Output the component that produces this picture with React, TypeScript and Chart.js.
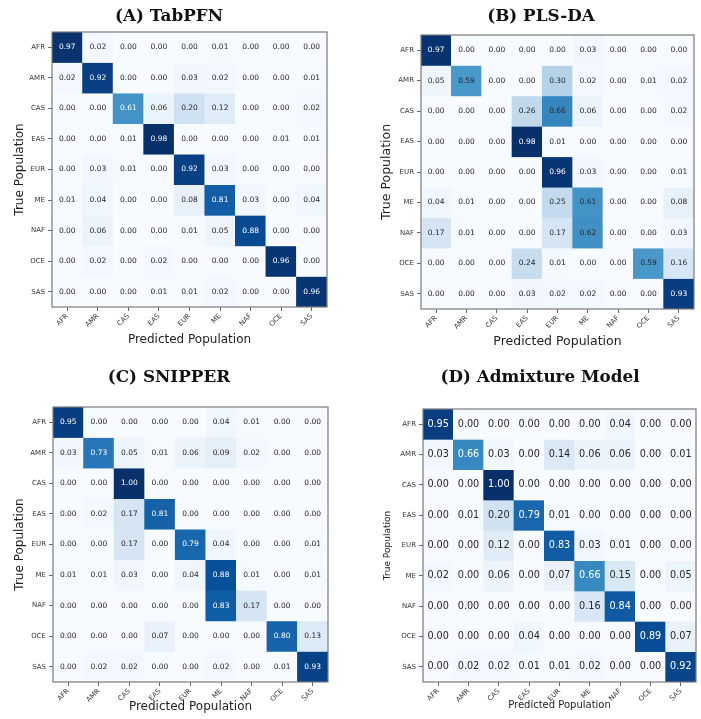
import React, { useEffect, useRef } from "react";
import { Chart, registerables } from "chart.js";

Chart.register(...registerables);

// Population codes shared by both axes
const populations = ["AFR", "AMR", "CAS", "EAS", "EUR", "ME", "NAF", "OCE", "SAS"];

// Row-normalised confusion matrices (rows = true population, columns = predicted)
const tabpfnMatrix = [
  [0.97, 0.02, 0.0, 0.0, 0.0, 0.01, 0.0, 0.0, 0.0],
  [0.02, 0.92, 0.0, 0.0, 0.03, 0.02, 0.0, 0.0, 0.01],
  [0.0, 0.0, 0.61, 0.06, 0.2, 0.12, 0.0, 0.0, 0.02],
  [0.0, 0.0, 0.01, 0.98, 0.0, 0.0, 0.0, 0.01, 0.01],
  [0.0, 0.03, 0.01, 0.0, 0.92, 0.03, 0.0, 0.0, 0.0],
  [0.01, 0.04, 0.0, 0.0, 0.08, 0.81, 0.03, 0.0, 0.04],
  [0.0, 0.06, 0.0, 0.0, 0.01, 0.05, 0.88, 0.0, 0.0],
  [0.0, 0.02, 0.0, 0.02, 0.0, 0.0, 0.0, 0.96, 0.0],
  [0.0, 0.0, 0.0, 0.01, 0.01, 0.02, 0.0, 0.0, 0.96],
];

const plsdaMatrix = [
  [0.97, 0.0, 0.0, 0.0, 0.0, 0.03, 0.0, 0.0, 0.0],
  [0.05, 0.59, 0.0, 0.0, 0.3, 0.02, 0.0, 0.01, 0.02],
  [0.0, 0.0, 0.0, 0.26, 0.66, 0.06, 0.0, 0.0, 0.02],
  [0.0, 0.0, 0.0, 0.98, 0.01, 0.0, 0.0, 0.0, 0.0],
  [0.0, 0.0, 0.0, 0.0, 0.96, 0.03, 0.0, 0.0, 0.01],
  [0.04, 0.01, 0.0, 0.0, 0.25, 0.61, 0.0, 0.0, 0.08],
  [0.17, 0.01, 0.0, 0.0, 0.17, 0.62, 0.0, 0.0, 0.03],
  [0.0, 0.0, 0.0, 0.24, 0.01, 0.0, 0.0, 0.59, 0.16],
  [0.0, 0.0, 0.0, 0.03, 0.02, 0.02, 0.0, 0.0, 0.93],
];

const snipperMatrix = [
  [0.95, 0.0, 0.0, 0.0, 0.0, 0.04, 0.01, 0.0, 0.0],
  [0.03, 0.73, 0.05, 0.01, 0.06, 0.09, 0.02, 0.0, 0.0],
  [0.0, 0.0, 1.0, 0.0, 0.0, 0.0, 0.0, 0.0, 0.0],
  [0.0, 0.02, 0.17, 0.81, 0.0, 0.0, 0.0, 0.0, 0.0],
  [0.0, 0.0, 0.17, 0.0, 0.79, 0.04, 0.0, 0.0, 0.01],
  [0.01, 0.01, 0.03, 0.0, 0.04, 0.88, 0.01, 0.0, 0.01],
  [0.0, 0.0, 0.0, 0.0, 0.0, 0.83, 0.17, 0.0, 0.0],
  [0.0, 0.0, 0.0, 0.07, 0.0, 0.0, 0.0, 0.8, 0.13],
  [0.0, 0.02, 0.02, 0.0, 0.0, 0.02, 0.0, 0.01, 0.93],
];

const admixtureMatrix = [
  [0.95, 0.0, 0.0, 0.0, 0.0, 0.0, 0.04, 0.0, 0.0],
  [0.03, 0.66, 0.03, 0.0, 0.14, 0.06, 0.06, 0.0, 0.01],
  [0.0, 0.0, 1.0, 0.0, 0.0, 0.0, 0.0, 0.0, 0.0],
  [0.0, 0.01, 0.2, 0.79, 0.01, 0.0, 0.0, 0.0, 0.0],
  [0.0, 0.0, 0.12, 0.0, 0.83, 0.03, 0.01, 0.0, 0.0],
  [0.02, 0.0, 0.06, 0.0, 0.07, 0.66, 0.15, 0.0, 0.05],
  [0.0, 0.0, 0.0, 0.0, 0.0, 0.16, 0.84, 0.0, 0.0],
  [0.0, 0.0, 0.0, 0.04, 0.0, 0.0, 0.0, 0.89, 0.07],
  [0.0, 0.02, 0.02, 0.01, 0.01, 0.02, 0.0, 0.0, 0.92],
];

const SANS = '"DejaVu Sans", sans-serif';
const SERIF = '"DejaVu Serif", serif';

// matplotlib "Blues" colour ramp
const BLUES = ["#f7fbff", "#deebf7", "#c6dbef", "#9ecae1", "#6baed6", "#4292c6", "#2171b5", "#08519c", "#08306b"];

function hexToRgb(h: string): number[] {
  return [1, 3, 5].map((i) => parseInt(h.slice(i, i + 2), 16));
}

function blues(t: number): number[] {
  const c = Math.max(0, Math.min(1, t)) * (BLUES.length - 1);
  const i = Math.min(Math.floor(c), BLUES.length - 2);
  const f = c - i;
  const a = hexToRgb(BLUES[i]);
  const b = hexToRgb(BLUES[i + 1]);
  return a.map((v, k) => Math.round(v + (b[k] - v) * f));
}

function rgbString(rgb: number[]): string {
  return `rgb(${rgb[0]},${rgb[1]},${rgb[2]})`;
}

type PanelConfig = {
  title: string;
  matrix: number[][];
  whiteAbove: number;
  left: number;
  top: number;
  width: number;
  height: number;
  padLeft: number;
  padRight: number;
  plotTop: number;
  yAxisWidth: number;
  xAxisHeight: number;
  yTitleSize: number;
  yTitlePad: number;
  xTitleSize: number;
  xTitlePad: number;
  cellSize: number;
  titleX: number;
  titleY: number;
};

const panels: PanelConfig[] = [
  {
    title: "(A) TabPFN",
    matrix: tabpfnMatrix,
    whiteAbove: 0.5,
    left: 0, top: 0, width: 350, height: 355,
    padLeft: 11, padRight: 23, plotTop: 32,
    yAxisWidth: 41, xAxisHeight: 48,
    yTitleSize: 12, yTitlePad: 1.8,
    xTitleSize: 12, xTitlePad: 7.8,
    cellSize: 7.5,
    titleX: 169, titleY: 16.5,
  },
  {
    title: "(B) PLS-DA",
    matrix: plsdaMatrix,
    whiteAbove: 0.9,
    left: 350, top: 0, width: 351, height: 355,
    padLeft: 25, padRight: 7, plotTop: 35,
    yAxisWidth: 46, xAxisHeight: 46,
    yTitleSize: 12.5, yTitlePad: 4.5,
    xTitleSize: 12.5, xTitlePad: 5.5,
    cellSize: 7.5,
    titleX: 191, titleY: 17,
  },
  {
    title: "(C) SNIPPER",
    matrix: snipperMatrix,
    whiteAbove: 0.5,
    left: 0, top: 355, width: 350, height: 364,
    padLeft: 10, padRight: 22, plotTop: 52,
    yAxisWidth: 43, xAxisHeight: 37,
    yTitleSize: 12, yTitlePad: 2.3,
    xTitleSize: 12, xTitlePad: 4.8,
    cellSize: 7.5,
    titleX: 169, titleY: 23,
  },
  {
    title: "(D) Admixture Model",
    matrix: admixtureMatrix,
    whiteAbove: 0.5,
    left: 350, top: 355, width: 351, height: 364,
    padLeft: 30, padRight: 5, plotTop: 54,
    yAxisWidth: 43, xAxisHeight: 37,
    yTitleSize: 9, yTitlePad: 2.6,
    xTitleSize: 10, xTitlePad: 8,
    cellSize: 9.7,
    titleX: 190, titleY: 23,
  },
];

function HeatmapPanel({ cfg }: { cfg: PanelConfig }) {
  const ref = useRef<HTMLCanvasElement>(null);

  useEffect(() => {
    const canvas = ref.current;
    if (!canvas) return;
    const flat = cfg.matrix.flat();
    const vmin = Math.min(...flat);
    const vmax = Math.max(...flat);
    const cellRgb = cfg.matrix.map((row) => row.map((v) => blues((v - vmin) / (vmax - vmin))));

    // One floating-bar dataset per true population, spanning its row band
    const datasets = cfg.matrix.map((row, r) => ({
      label: populations[r],
      data: row.map(() => [r - 0.5, r + 0.5]),
      backgroundColor: cellRgb[r].map(rgbString),
      borderWidth: 0,
      grouped: false,
      barPercentage: 1,
      categoryPercentage: 1,
    }));

    const cellLabels = {
      id: "cellLabels",
      afterDatasetsDraw(chart: any) {
        const { ctx, scales } = chart;
        ctx.save();
        ctx.font = `${cfg.cellSize}px ${SANS}`;
        ctx.textAlign = "center";
        ctx.textBaseline = "middle";
        cfg.matrix.forEach((row, r) => {
          row.forEach((v, c) => {
            ctx.fillStyle = v >= cfg.whiteAbove ? "#ffffff" : "#262626";
            ctx.fillText(v.toFixed(2), scales.x.getPixelForValue(c), scales.y.getPixelForValue(r));
          });
        });
        ctx.restore();
      },
    };

    const frameAndTitle = {
      id: "frameAndTitle",
      afterDraw(chart: any) {
        const { ctx, chartArea } = chart;
        ctx.save();
        ctx.strokeStyle = "#7a7a7a";
        ctx.lineWidth = 1.2;
        ctx.strokeRect(chartArea.left, chartArea.top, chartArea.right - chartArea.left, chartArea.bottom - chartArea.top);
        ctx.fillStyle = "#111111";
        ctx.font = `bold 16.8px ${SERIF}`;
        ctx.textAlign = "center";
        ctx.textBaseline = "middle";
        ctx.fillText(cfg.title, cfg.titleX, cfg.titleY);
        ctx.restore();
      },
    };

    const chart = new Chart(canvas, {
      type: "bar",
      data: { labels: populations, datasets: datasets as any },
      options: {
        responsive: false,
        maintainAspectRatio: false,
        animation: false,
        events: [],
        layout: { padding: { left: cfg.padLeft, right: cfg.padRight, top: cfg.plotTop, bottom: 0 } },
        plugins: {
          legend: { display: false },
          tooltip: { enabled: false },
          title: { display: false },
        },
        scales: {
          x: {
            type: "category",
            offset: true,
            ticks: {
              autoSkip: false,
              minRotation: 45,
              maxRotation: 45,
              padding: 1,
              color: "#333333",
              font: { family: SANS, size: 7 },
            },
            grid: { offset: false, drawOnChartArea: false, drawTicks: true, tickLength: 4, color: "#666666" },
            border: { display: false },
            title: {
              display: true,
              text: "Predicted Population",
              color: "#222222",
              font: { family: SANS, size: cfg.xTitleSize },
              padding: { top: 0, bottom: cfg.xTitlePad },
            },
            afterFit: (s: any) => {
              s.height = cfg.xAxisHeight;
            },
          },
          y: {
            type: "linear",
            reverse: true,
            min: -0.5,
            max: 8.5,
            afterBuildTicks: (s: any) => {
              s.ticks = populations.map((_, i) => ({ value: i }));
            },
            ticks: {
              autoSkip: false,
              padding: 3,
              color: "#333333",
              font: { family: SANS, size: 7 },
              callback: (v: any) => populations[Number(v)] ?? "",
            },
            grid: { drawOnChartArea: false, drawTicks: true, tickLength: 4, color: "#666666" },
            border: { display: false },
            title: {
              display: true,
              text: "True Population",
              color: "#222222",
              font: { family: SANS, size: cfg.yTitleSize },
              padding: { top: cfg.yTitlePad, bottom: 0 },
            },
            afterFit: (s: any) => {
              s.width = cfg.yAxisWidth;
            },
          },
        },
      } as any,
      plugins: [cellLabels, frameAndTitle],
    });

    return () => chart.destroy();
  }, [cfg]);

  return (
    <canvas
      ref={ref}
      width={cfg.width}
      height={cfg.height}
      style={{ position: "absolute", left: cfg.left, top: cfg.top, width: cfg.width, height: cfg.height }}
    />
  );
}

export default function App() {
  return (
    <div style={{ position: "absolute", left: 0, top: 0, width: 701, height: 719, background: "#ffffff", overflow: "hidden" }}>
      {panels.map((p) => (
        <HeatmapPanel key={p.title} cfg={p} />
      ))}
    </div>
  );
}
